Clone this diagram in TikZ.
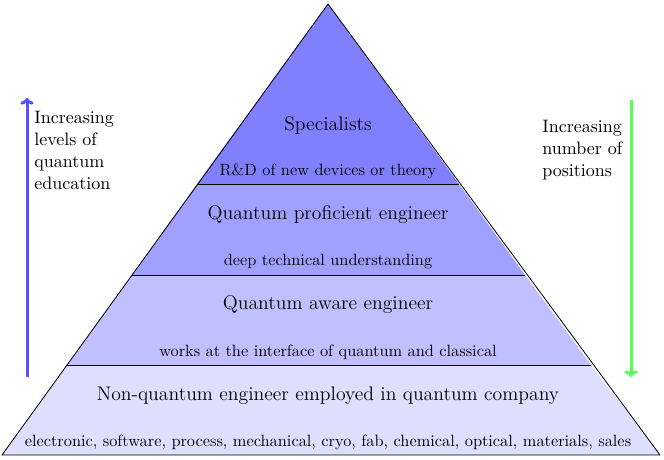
\documentclass[tikz,border=0pt]{standalone}
\usetikzlibrary{arrows.meta}
\definecolor{lvA}{RGB}{128,128,255}
\definecolor{lvB}{RGB}{160,160,255}
\definecolor{lvC}{RGB}{192,192,255}
\definecolor{lvD}{RGB}{222,222,255}
\definecolor{arrblue}{RGB}{85,85,255}
\definecolor{arrgreen}{RGB}{85,255,85}
\begin{document}
\begin{tikzpicture}[x=0.6pt,y=-0.6pt,
  layer/.style={draw=black,line width=0.5pt,line join=round},
  title/.style={font=\fontsize{11.8}{14}\selectfont,inner sep=0pt},
  sub/.style={font=\fontsize{9.8}{11.8}\selectfont,inner sep=0pt},
  side/.style={align=left,inner sep=0pt,anchor=north west,font=\fontsize{10.8}{13.2}\selectfont},
  bigarrow/.style={line width=1.8pt,-{To[length=4pt,width=8pt]}}]
\useasboundingbox (0,0) rectangle (664,460);
% pyramid corners
\coordinate (apex) at (328,4);
\coordinate (l1) at (197,184); \coordinate (r1) at (459,184);
\coordinate (l2) at (132,275); \coordinate (r2) at (525,275);
\coordinate (l3) at (67,365);  \coordinate (r3) at (591,365);
\coordinate (l4) at (2,455);   \coordinate (r4) at (660,455);
\fill[lvD] (l3) -- (r3) -- (r4) -- (l4) -- cycle;
\fill[lvC] (l2) -- (r2) -- (r3) -- (l3) -- cycle;
\fill[lvB] (l1) -- (r1) -- (r2) -- (l2) -- cycle;
\fill[lvA] (apex) -- (r1) -- (l1) -- cycle;
\draw[layer] (apex) -- (l4) -- (r4) -- cycle;
\draw[layer] (l1) -- (r1);
\draw[layer] (l2) -- (r2);
\draw[layer] (l3) -- (r3);
% texts
\node[title] (t1) at (328,125) {Specialists};
\node[sub] (s1) at (328,171) {R\&D of new devices or theory};
\node[title] (t2) at (328,215) {Quantum proficient engineer};
\node[sub] (s2) at (328,262) {deep technical understanding};
\node[title] (t3) at (328,305) {Quantum aware engineer};
\node[sub] (s3) at (328,352) {works at the interface of quantum and classical};
\node[title] (t4) at (328,396) {Non-quantum engineer employed in quantum company};
\node[sub] (s4) at (328,442) {electronic, software, process, mechanical, cryo, fab, chemical, optical, materials, sales};
% side arrows
\coordinate (ba) at (27,377); \coordinate (bb) at (27,98);
\draw[bigarrow,arrblue] (ba) -- (bb);
\coordinate (ga) at (631,100); \coordinate (gb) at (631,377);
\draw[bigarrow,arrgreen] (ga) -- (gb);
\node[side] (lt) at (34,111) {Increasing\\levels of\\quantum\\education};
\node[side] (rt) at (542,120) {Increasing\\number of\\positions};
\end{tikzpicture}
\end{document}
